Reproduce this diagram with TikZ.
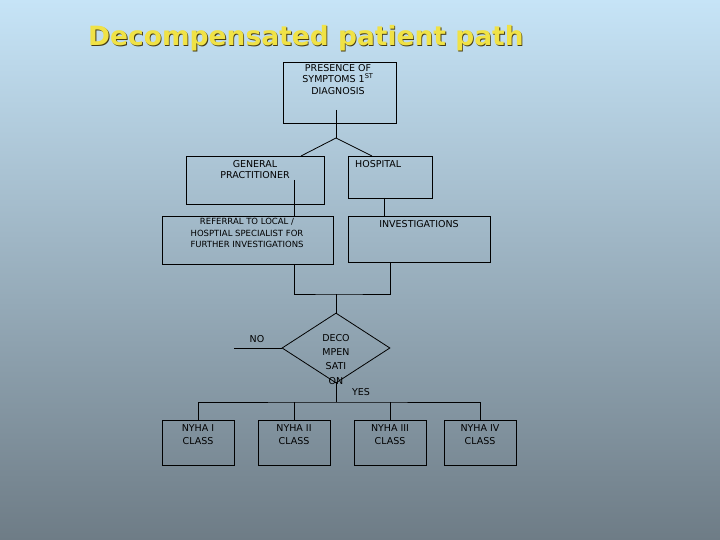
\documentclass[tikz,border=0pt]{standalone}
\usepackage{fontspec}
\setmainfont{DejaVu Sans}
\usetikzlibrary{shapes.geometric}
\begin{document}
\begin{tikzpicture}[x=1pt,y=-1pt,
  box/.style={draw=black,line width=0.8pt,minimum width=#1,inner sep=0pt},
  txt/.style={font=\fontsize{9.5}{11.5}\selectfont,align=center,inner sep=0pt,anchor=north},
  ttl/.style={font=\bfseries\fontsize{26.5}{30}\selectfont,inner sep=0pt},
  ln/.style={draw=black,line width=0.8pt}]
\shade[top color={rgb,255:red,198;green,228;blue,247},bottom color={rgb,255:red,110;green,124;blue,134}] (0,0) rectangle (720,540);
\useasboundingbox (0,0) rectangle (720,540);
\node[ttl,text={rgb,255:red,70;green,60;blue,20}] (tshadow) at (306.8,38.8) {Decompensated patient path};
\node[ttl,text={rgb,255:red,240;green,226;blue,70}] (title) at (306,38) {Decompensated patient path};
% boxes
\node[box=113pt,minimum height=61pt] (top) at (339.5,92.5) {};
\node[box=138pt,minimum height=48pt] (gp) at (255,180) {};
\node[box=84pt,minimum height=42pt] (hosp) at (390,177) {};
\node[box=171pt,minimum height=48pt] (ref) at (247.5,240) {};
\node[box=142pt,minimum height=46pt] (inv) at (419,239) {};
\node[draw=black,line width=0.8pt,diamond,aspect=1.54,minimum width=108pt,minimum height=70pt,inner sep=0pt] (dec) at (336,348) {};
\foreach \n/\x in {n1/198,n2/294,n3/390,n4/480}{\node[box=72pt,minimum height=45pt] (\n) at (\x,442.5) {};}
% texts
\node[txt] (ttop) at (338,64) {PRESENCE OF\\SYMPTOMS 1\textsuperscript{ST}\\DIAGNOSIS};
\node[txt] (tgp) at (255,160) {GENERAL\\PRACTITIONER};
\node[txt,anchor=north west] (thosp) at (355,160) {HOSPITAL};
\node[txt,font=\fontsize{8.5}{11.5}\selectfont] (tref) at (247,218) {REFERRAL TO LOCAL /\\HOSPTIAL SPECIALIST FOR\\FURTHER INVESTIGATIONS};
\node[txt] (tinv) at (419,220) {INVESTIGATIONS};
\node[txt,font=\fontsize{9.5}{14.3}\selectfont] (tdec) at (336,334) {DECO\\MPEN\\SATI\\ON};
\node[txt] (tno) at (257,335) {NO};
\node[txt] (tyes) at (361,388) {YES};
\node[txt,font=\fontsize{9.5}{13.5}\selectfont] (t1) at (198,424) {NYHA I\\CLASS};
\node[txt,font=\fontsize{9.5}{13.5}\selectfont] (t2) at (294,424) {NYHA II\\CLASS};
\node[txt,font=\fontsize{9.5}{13.5}\selectfont] (t3) at (390,424) {NYHA III\\CLASS};
\node[txt,font=\fontsize{9.5}{13.5}\selectfont] (t4) at (480,424) {NYHA IV\\CLASS};
% connectors
\coordinate (b1) at (336,138);
\draw[ln] (336,110) -- (b1);
\draw[ln] (b1) -- (301,156);
\draw[ln] (b1) -- (372,156);
\draw[ln] (294,180) -- (294,216);
\draw[ln] (384,198) -- (384,216);
\coordinate (j) at (336,294);
\draw[ln] (294,264) |- (j) -| (390,262);
\draw[ln] (j) -- (dec.north);
\draw[ln] (dec.west) -- (234,348);
\coordinate (k) at (336,402);
\draw[ln] (336,383) -- (k);
\draw[ln] (n1.north) |- (k) -| (n4.north);
\draw[ln] (n2.north) -- (294,402);
\draw[ln] (n3.north) -- (390,402);
\end{tikzpicture}
\end{document}
